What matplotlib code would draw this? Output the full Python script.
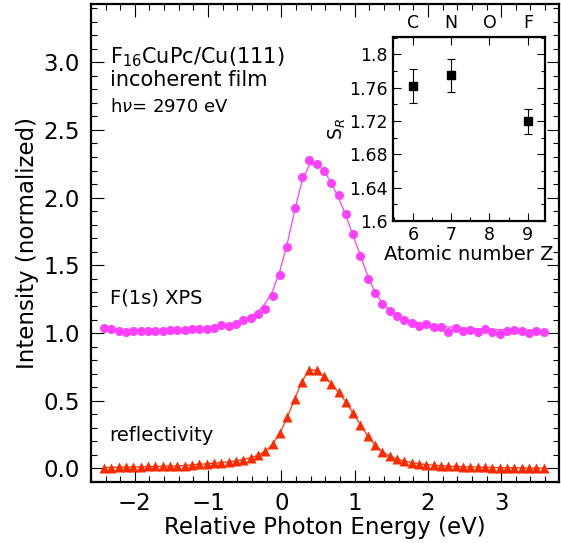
import matplotlib.pyplot as plt
from matplotlib.ticker import MultipleLocator

# photon energy grid (eV, relative to edge)
energy = [-2.42, -2.32, -2.22, -2.12, -2.02, -1.92, -1.82, -1.72, -1.62, -1.52,
          -1.42, -1.32, -1.22, -1.12, -1.02, -0.92, -0.82, -0.72, -0.62, -0.52,
          -0.42, -0.32, -0.22, -0.12, -0.02, 0.08, 0.18, 0.28, 0.38, 0.48,
          0.58, 0.68, 0.78, 0.88, 0.98, 1.08, 1.18, 1.28, 1.38, 1.48,
          1.58, 1.68, 1.78, 1.88, 1.98, 2.08, 2.18, 2.28, 2.38, 2.48,
          2.58, 2.68, 2.78, 2.88, 2.98, 3.08, 3.18, 3.28, 3.38, 3.48, 3.58]

# F(1s) XPS yield, measured
xps = [1.041, 1.029, 1.015, 1.010, 1.015, 1.012, 1.015, 1.017, 1.017, 1.022,
       1.022, 1.024, 1.029, 1.029, 1.029, 1.037, 1.056, 1.054, 1.066, 1.093,
       1.110, 1.141, 1.178, 1.273, 1.430, 1.635, 1.920, 2.150, 2.280, 2.250,
       2.200, 2.110, 2.020, 1.880, 1.730, 1.570, 1.400, 1.298, 1.212, 1.163,
       1.129, 1.098, 1.078, 1.049, 1.066, 1.044, 1.044, 1.010, 1.039, 1.017,
       1.022, 1.010, 1.027, 1.007, 0.993, 1.012, 1.020, 1.012, 1.000, 1.017, 1.007]

# F(1s) XPS yield, fit
xps_fit = [1.015, 1.015, 1.016, 1.016, 1.017, 1.018, 1.019, 1.020, 1.021, 1.023,
           1.025, 1.027, 1.030, 1.034, 1.038, 1.044, 1.051, 1.061, 1.075, 1.094,
           1.120, 1.160, 1.220, 1.310, 1.460, 1.660, 1.900, 2.120, 2.240, 2.250,
           2.200, 2.110, 2.000, 1.870, 1.720, 1.570, 1.420, 1.300, 1.220, 1.165,
           1.130, 1.105, 1.088, 1.075, 1.065, 1.057, 1.050, 1.045, 1.041, 1.037,
           1.034, 1.031, 1.029, 1.027, 1.025, 1.023, 1.022, 1.021, 1.020, 1.019, 1.018]

# reflectivity
refl = [0.007, 0.007, 0.010, 0.010, 0.012, 0.012, 0.015, 0.015, 0.017, 0.017,
        0.020, 0.022, 0.027, 0.032, 0.034, 0.039, 0.044, 0.049, 0.056, 0.066,
        0.080, 0.098, 0.127, 0.178, 0.261, 0.378, 0.510, 0.641, 0.729, 0.724,
        0.680, 0.627, 0.563, 0.493, 0.407, 0.322, 0.239, 0.171, 0.122, 0.090,
        0.068, 0.054, 0.044, 0.034, 0.029, 0.024, 0.020, 0.017, 0.015, 0.012,
        0.012, 0.010, 0.010, 0.007, 0.007, 0.005, 0.005, 0.005, 0.002, 0.002, 0.002]

# inset: S_R per element
atomic_z = [6, 7, 9]
s_r = [1.762, 1.775, 1.720]
s_r_err = [0.020, 0.020, 0.015]
elem_ticks = [6, 7, 8, 9]
elem_names = ['C', 'N', 'O', 'F']

plt.rcParams['font.family'] = 'DejaVu Sans'
fig = plt.figure(figsize=(5.61, 5.43), dpi=100)
ax = fig.add_axes([0.162, 0.1123, 0.8345, 0.8803])

ax.plot(energy, xps_fit, color='#ff40ff', lw=0.9, zorder=2)
ax.plot(energy, xps, 'o', color='#ff40ff', ms=6.5, mec='none', zorder=3)
ax.plot(energy, refl, color='#ff3a10', lw=0.9, zorder=2)
ax.plot(energy, refl, '^', color='#ff2a00', ms=6.5, mec='none', zorder=3)

ax.set_xlim(-2.6, 3.79)
ax.set_ylim(-0.1, 3.43)
ax.xaxis.set_major_locator(MultipleLocator(1))
ax.xaxis.set_minor_locator(MultipleLocator(0.2))
ax.yaxis.set_major_locator(MultipleLocator(0.5))
ax.yaxis.set_minor_locator(MultipleLocator(0.1))
ax.tick_params(which='both', direction='in', top=True, right=True, labelsize=16.5)
ax.tick_params(which='major', length=9, width=0.8)
ax.tick_params(axis='x', which='major', pad=7)
ax.tick_params(axis='y', which='major', pad=8)
ax.tick_params(which='minor', length=4.5, width=0.8)
for s in ax.spines.values():
    s.set_linewidth(1.6)
ax.set_xlabel('Relative Photon Energy (eV)', fontsize=16.5, labelpad=1)
ax.set_ylabel('Intensity (normalized)', fontsize=16.5, labelpad=3)

ax.text(0.04, 0.889, 'F$_{16}$CuPc/Cu(111)', transform=ax.transAxes, fontsize=15, va='center')
ax.text(0.04, 0.841, 'incoherent film', transform=ax.transAxes, fontsize=15, va='center')
ax.text(0.04, 0.785, r'h$\nu$= 2970 eV', transform=ax.transAxes, fontsize=13, va='center')
ax.text(0.04, 0.385, 'F(1s) XPS', transform=ax.transAxes, fontsize=14, va='center')
ax.text(0.04, 0.098, 'reflectivity', transform=ax.transAxes, fontsize=14, va='center')

# inset
ins = fig.add_axes([0.7005, 0.593, 0.271, 0.339])
ins.errorbar(atomic_z, s_r, yerr=s_r_err, fmt='s', color='black', ms=6,
             elinewidth=0.8, capsize=3, capthick=0.8)
ins.set_xlim(5.48, 9.45)
ins.set_ylim(1.6, 1.821)
ins.set_xticks(elem_ticks)
ins.xaxis.set_minor_locator(MultipleLocator(0.5))
ins.yaxis.set_major_locator(MultipleLocator(0.04))
ins.yaxis.set_minor_locator(MultipleLocator(0.02))
ins.yaxis.set_major_formatter(plt.FuncFormatter(lambda v, p: f'{v:.2f}'.rstrip('0')))
ins.tick_params(which='both', direction='in', right=True, labelsize=12.5)
ins.tick_params(which='major', length=6, width=0.8)
ins.tick_params(which='minor', length=3, width=0.8)
for s in ins.spines.values():
    s.set_linewidth(1.6)
top = ins.secondary_xaxis('top')
top.set_xticks(elem_ticks)
top.set_xticklabels(elem_names)
top.tick_params(direction='in', length=6, width=0.8, labelsize=12.5)
ins.set_xlabel('Atomic number Z', fontsize=14, labelpad=1)
ins.set_ylabel('S$_R$', fontsize=13.5, labelpad=1)

fig.savefig('out.png', dpi=100)
